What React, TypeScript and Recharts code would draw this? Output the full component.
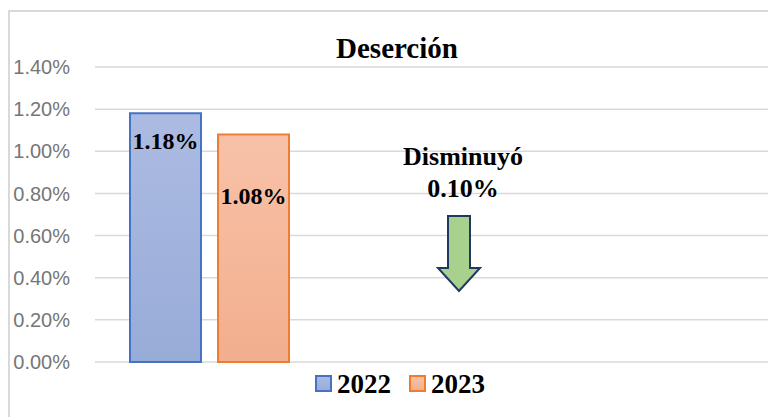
import React from "react";
import {
  BarChart,
  Bar,
  XAxis,
  YAxis,
  CartesianGrid,
  LabelList,
  Customized,
} from "recharts";

// chart values
const categories = ["Deserción", "", " "];
const values2022 = [0.0118, null, null];
const values2023 = [0.0108, null, null];
const seriesNames = ["2022", "2023"];
const yTicks = [0, 0.002, 0.004, 0.006, 0.008, 0.01, 0.012, 0.014];
const title = "Deserción";
const noteLines = ["Disminuyó", "0.10%"];

const data = categories.map((c, i) => ({
  cat: c,
  v2022: values2022[i],
  v2023: values2023[i],
}));

const SERIF = "'Liberation Serif', 'Times New Roman', serif";
const pct = (v: number) => (v * 100).toFixed(2) + "%";

const seriesStyle = [
  { key: "v2022", grad: "gBlue", stroke: "#4472c4", top: "#acbbe2", bottom: "#98acd8", dy: 36 },
  { key: "v2023", grad: "gOrange", stroke: "#ed7d31", top: "#f8c2a8", bottom: "#f2ae8e", dy: 70 },
];

function makeLabel(dy: number) {
  return (props: any) => {
    const { x, y, width, value } = props;
    if (value == null) return null;
    return (
      <text
        x={x + width / 2}
        y={y + dy}
        textAnchor="middle"
        fontFamily={SERIF}
        fontWeight="bold"
        fontSize={24}
        fill="#000"
      >
        {pct(value)}
      </text>
    );
  };
}

function Overlay() {
  return (
    <g>
      <text x={389} y={50} textAnchor="middle" fontFamily={SERIF} fontWeight="bold" fontSize={29} fill="#000">
        {title}
      </text>
      {noteLines.map((t, i) => (
        <text
          key={i}
          x={455}
          y={157 + i * 32}
          textAnchor="middle"
          fontFamily={SERIF}
          fontWeight="bold"
          fontSize={26}
          fill="#000"
        >
          {t}
        </text>
      ))}
      <path
        d="M440,208 L462,208 L462,260 L472,260 L451,283 L430,260 L440,260 Z"
        fill="#a9d18e"
        stroke="#203864"
        strokeWidth={2}
        strokeLinejoin="miter"
      />
      {seriesNames.map((n, i) => (
        <g key={n}>
          <rect
            x={308 + i * 94}
            y={368}
            width={15}
            height={15}
            fill={`url(#${seriesStyle[i].grad})`}
            stroke={seriesStyle[i].stroke}
            strokeWidth={2}
          />
          <text x={329 + i * 94} y={385} fontFamily={SERIF} fontWeight="bold" fontSize={27} fill="#000">
            {n}
          </text>
        </g>
      ))}
    </g>
  );
}

export default function App() {
  return (
    <div style={{ position: "relative", width: 768, height: 409, overflow: "hidden", background: "#fff" }}>
      <div
        style={{
          position: "absolute",
          left: 0,
          top: 2,
          width: 800,
          height: 440,
          border: "2px solid #d9d9d9",
          boxSizing: "border-box",
        }}
      />
      <div style={{ position: "absolute", left: 0, top: 0 }}>
        <BarChart
          width={790}
          height={409}
          data={data}
          margin={{ top: 59, right: 16, bottom: 55, left: 0 }}
          barCategoryGap={35}
          barGap={17}
        >
          <defs>
            {seriesStyle.map((s) => (
              <linearGradient key={s.grad} id={s.grad} x1="0" y1="0" x2="0" y2="1">
                <stop offset="0%" stopColor={s.top} />
                <stop offset="100%" stopColor={s.bottom} />
              </linearGradient>
            ))}
          </defs>
          <CartesianGrid vertical={false} stroke="#d9d9d9" strokeWidth={1.5} />
          <XAxis dataKey="cat" hide />
          <YAxis
            width={87}
            domain={[0, 0.014]}
            ticks={yTicks}
            tickFormatter={pct}
            axisLine={false}
            tickLine={false}
            tickMargin={19}
            tick={{ fill: "#767676", fontSize: 20, fontFamily: "'Liberation Sans', Arial, sans-serif" }}
          />
          {seriesStyle.map((s, i) => (
            <Bar
              key={s.key}
              dataKey={s.key}
              name={seriesNames[i]}
              fill={`url(#${s.grad})`}
              stroke={s.stroke}
              strokeWidth={2}
              isAnimationActive={false}
            >
              <LabelList dataKey={s.key} content={makeLabel(s.dy)} />
            </Bar>
          ))}
          <Customized component={Overlay} />
        </BarChart>
      </div>
    </div>
  );
}
